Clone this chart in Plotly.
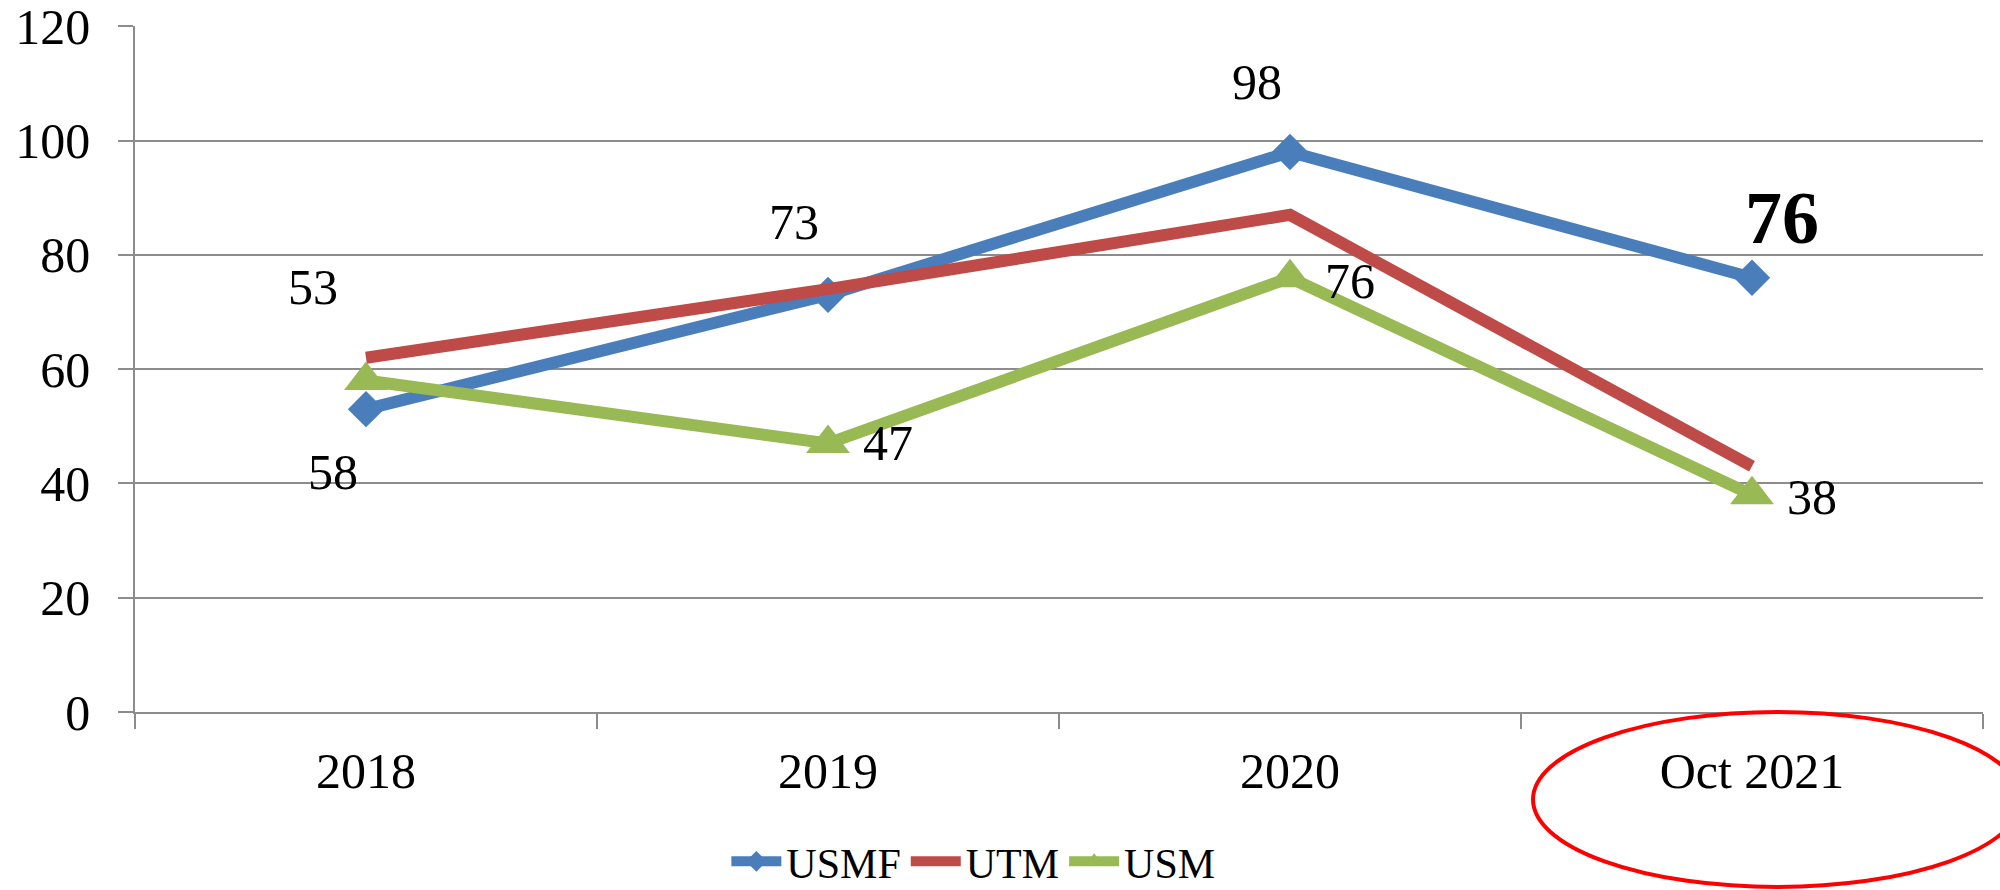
import plotly.graph_objects as go

categories = ["2018", "2019", "2020", "Oct 2021"]
usmf = [53, 73, 98, 76]
utm = [62, 74, 87, 43]
usm = [58, 47, 76, 38]
y_ticks = [0, 20, 40, 60, 80, 100, 120]

# data labels: (series values, index, text, xshift, yshift, size, bold)
label_specs = [
    (usmf, 0, "53", -53, 122, 50, False),
    (usm, 0, "58", -33, -91, 50, False),
    (usmf, 1, "73", -34, 73, 50, False),
    (usm, 1, "47", 60, 0, 50, False),
    (usmf, 2, "98", -33, 70, 50, False),
    (usm, 2, "76", 60, -3, 50, False),
    (usmf, 3, "76", 30, 60, 74, True),
    (usm, 3, "38", 60, -2, 50, False),
]

FONT = "Liberation Serif"
BLUE = "#4A7EBB"
RED = "#BE4B48"
GREEN = "#98B954"
GRID = "#8c8c8c"

fig = go.Figure()
fig.add_trace(go.Scatter(x=categories, y=usmf, name="USMF", mode="lines+markers",
                         line=dict(color=BLUE, width=12),
                         marker=dict(symbol="diamond", size=28, color=BLUE)))
fig.add_trace(go.Scatter(x=categories, y=utm, name="UTM", mode="lines",
                         line=dict(color=RED, width=12)))
fig.add_trace(go.Scatter(x=categories, y=usm, name="USM", mode="lines+markers",
                         line=dict(color=GREEN, width=12),
                         marker=dict(symbol="triangle-up", size=38, color=GREEN)))

for vals, i, txt, xs, ys, sz, bold in label_specs:
    fig.add_annotation(x=i, y=vals[i], xref="x", yref="y",
                       text=f"<b>{txt}</b>" if bold else txt,
                       showarrow=False, xshift=xs, yshift=ys,
                       font=dict(family=FONT, size=sz, color="black"))

# red highlight ellipse around the last category label
fig.add_shape(type="circle", xref="paper", yref="paper",
              x0=0.7565, x1=1.0206, y0=-0.255, y1=0.0,
              line=dict(color="#FF0000", width=4), layer="above")

fig.update_layout(
    width=2000, height=890,
    margin=dict(l=135, r=17, t=26, b=178, autoexpand=False),
    paper_bgcolor="white", plot_bgcolor="white",
    font=dict(family=FONT, size=50, color="black"),
    showlegend=True,
    legend=dict(orientation="h", x=0.32, xanchor="left", y=-0.218, yanchor="middle",
                font=dict(family=FONT, size=42), itemwidth=50,
                bgcolor="rgba(0,0,0,0)"),
    xaxis=dict(type="category", range=[-0.5, 3.5], showgrid=False, automargin=False,
               showline=True, linecolor=GRID, linewidth=1.5,
               ticks="outside", tickson="boundaries", ticklen=15, tickcolor=GRID,
               tickwidth=1.5, ticklabelstandoff=14,
               tickfont=dict(family=FONT, size=50, color="black")),
    yaxis=dict(range=[0, 120.05], tickvals=y_ticks, showgrid=True, gridcolor=GRID,
               gridwidth=1.5, automargin=False, ticklabeloverflow="allow",
               showline=True, linecolor=GRID, linewidth=1.5, zeroline=False,
               ticks="outside", ticklen=15, tickcolor=GRID, tickwidth=1.5,
               ticklabelstandoff=18,
               tickfont=dict(family=FONT, size=50, color="black")),
)

fig.write_html("out.html", config={"displayModeBar": False},
               post_script="document.body.style.margin='0';document.body.style.overflow='hidden';")
